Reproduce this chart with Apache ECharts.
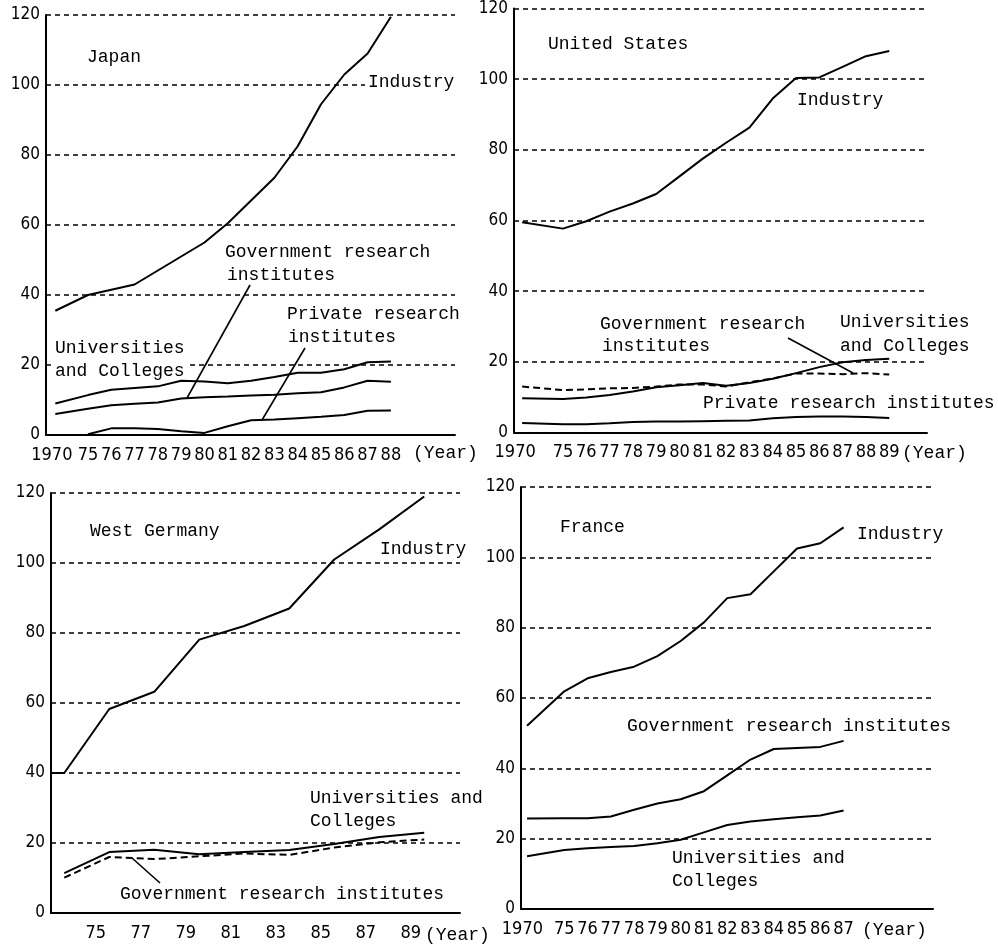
<!DOCTYPE html>
<html>
<head>
<meta charset="utf-8">
<script src="https://cdn.jsdelivr.net/npm/echarts@6/dist/echarts.min.js"></script>
<style>
html,body{margin:0;padding:0;background:#fff;}
#c{width:998px;height:951px;}
</style>
</head>
<body>
<div id="c"></div>
<script>
// ---------------- DATA ----------------
const yTicks = [0, 20, 40, 60, 80, 100, 120];

const jpYears = [1970, 1975, 1976, 1977, 1978, 1979, 1980, 1981, 1982, 1983, 1984, 1985, 1986, 1987, 1988];
const jpIndustry = [35.5, 40, 41.5, 43, 47, 51, 55, 60.5, 67, 73.5, 82.5, 94.5, 103, 109, 119.5];
const jpUniv     = [9, 11.4, 12.9, 13.4, 13.9, 15.5, 15.3, 14.8, 15.5, 16.6, 17.8, 17.8, 18.8, 20.8, 21];
const jpGov      = [6, 7.5, 8.5, 8.9, 9.3, 10.4, 10.8, 11, 11.3, 11.5, 11.9, 12.2, 13.6, 15.5, 15.2];
const jpPrivate  = [null, 0.2, 1.9, 1.9, 1.7, 1.1, 0.6, 2.5, 4.2, 4.4, 4.8, 5.2, 5.7, 6.9, 7];

const usYears = [1970, 1975, 1976, 1977, 1978, 1979, 1980, 1981, 1982, 1983, 1984, 1985, 1986, 1987, 1988, 1989];
const usIndustry = [59.5, 57.7, 59.8, 62.5, 64.8, 67.5, 72.5, 77.5, 82, 86.3, 94.5, 100.3, 100.5, 103.5, 106.5, 108];
const usUniv     = [9.7, 9.5, 9.9, 10.6, 11.6, 12.8, 13.4, 14, 13.2, 14, 15.2, 16.8, 18.5, 19.9, 20.5, 20.9];
const usGov      = [13, 12, 12.2, 12.5, 12.6, 13, 13.6, 13.6, 13, 14.2, 15.3, 16.7, 16.7, 16.5, 16.8, 16.4];
const usPrivate  = [2.7, 2.3, 2.3, 2.6, 3.0, 3.1, 3.1, 3.2, 3.3, 3.4, 4.0, 4.4, 4.5, 4.5, 4.4, 4.1];

const wgYears = [1972, 1973, 1975, 1977, 1979, 1981, 1983, 1985, 1987, 1989];
const wgIndustry = [40, 40, 58.3, 63.2, 78.1, 82, 87, 101, 109.6, 119];
const wgUniv     = [null, 11.4, 17.4, 18.1, 16.8, 17.4, 18, 19.7, 21.7, 22.9];
const wgGov      = [null, 10.1, 16, 15.4, 16.2, 17, 16.6, 18.7, 20.2, 21];
const wgLabelYears = [1975, 1977, 1979, 1981, 1983, 1985, 1987, 1989];

const frYears = [1970, 1975, 1976, 1977, 1978, 1979, 1980, 1981, 1982, 1983, 1984, 1985, 1986, 1987];
const frIndustry = [52.1, 61.9, 65.6, 67.4, 68.9, 71.9, 76.2, 81.5, 88.4, 89.5, 96, 102.5, 104, 108.5];
const frGov      = [25.7, 25.8, 25.8, 26.3, 28.2, 30, 31.2, 33.5, 38, 42.5, 45.5, 45.8, 46.1, 47.8];
const frUniv     = [15, 16.8, 17.3, 17.6, 17.9, 18.7, 19.7, 21.8, 23.9, 24.9, 25.5, 26.1, 26.6, 28];

// ---------------- LAYOUT ----------------
const panels = [
  {grid:{left:46, top:15, width:409, height:420}, xmin:73.2, xmax:90.75, p1970:73.6, l1970:73.45},
  {grid:{left:514, top:8.5, width:413, height:424}, xmin:72.9, xmax:90.62, p1970:73.25, l1970:72.95},
  {grid:{left:51, top:493, width:409, height:420}, xmin:72.41, xmax:90.59, p1970:73.0, l1970:null},
  {grid:{left:521, top:487, width:412, height:422}, xmin:73.14, xmax:90.84, p1970:73.4, l1970:73.2}
];

const annoFont = "18px 'Liberation Mono', 'DejaVu Sans Mono', monospace";
const annotations = [
  ['Japan', 87, 57], ['Industry', 368, 82],
  ['Government research', 225, 252], ['institutes', 227, 275],
  ['Universities', 55, 348], ['and Colleges', 55, 371],
  ['Private research', 287, 314], ['institutes', 288, 337],
  ['(Year)', 413, 453],
  ['United States', 548, 44], ['Industry', 797, 100],
  ['Government research', 600, 324], ['institutes', 602, 346],
  ['Universities', 840, 322], ['and Colleges', 840, 346],
  ['Private research institutes', 703, 403],
  ['(Year)', 902, 453],
  ['West Germany', 90, 531], ['Industry', 380, 549],
  ['Universities and', 310, 798], ['Colleges', 310, 821],
  ['Government research institutes', 120, 894],
  ['(Year)', 425, 935],
  ['France', 560, 527], ['Industry', 857, 534],
  ['Government research institutes', 627, 726],
  ['Universities and', 672, 858], ['Colleges', 672, 881],
  ['(Year)', 862, 930]
];
const leaders = [
  [250, 285, 187, 398],
  [305, 348, 262, 420],
  [788, 338, 853, 373],
  [160, 883, 132, 858]
];

// ---------------- BUILD ----------------
function xPos(yr, p1970) { return yr === 1970 ? p1970 : yr - 1900; }
function pts(years, vals, p1970) {
  const out = [];
  years.forEach((y, i) => { if (vals[i] != null) out.push([xPos(y, p1970), vals[i]]); });
  return out;
}
const black = '#000';
const tickFont = "'Liberation Sans Narrow', 'DejaVu Sans Condensed', sans-serif";
const wgLabelShift = 0.6;
const textPad = 3;

function labelValues(years, l1970) {
  return years.filter(y => y >= 1970).map(y => y === 1970 ? l1970 : y - 1900);
}
const xLabelVals = [
  labelValues(jpYears, panels[0].l1970),
  labelValues(usYears, panels[1].l1970),
  wgLabelYears.map(y => y - 1900 - wgLabelShift),
  labelValues(frYears, panels[3].l1970)
];

const grids = panels.map(p => Object.assign({containLabel:false}, p.grid));
const xAxes = panels.map((p, i) => ({
  type:'value', gridIndex:i, min:p.xmin, max:p.xmax,
  axisLine:{show:true, lineStyle:{color:black, width:2}},
  axisTick:{show:false}, splitLine:{show:false},
  axisLabel:{
    customValues: xLabelVals[i], margin: 11,
    color:black, fontSize:18, fontFamily:tickFont,
    formatter: v => {
      if (i === 2) return String(Math.round(v + wgLabelShift));
      return v < 74.5 ? '1970' : String(Math.round(v));
    }
  }
}));
const yAxes = panels.map((p, i) => ({
  type:'value', gridIndex:i, min:yTicks[0], max:yTicks[yTicks.length-1], interval:20,
  axisLine:{show:true, lineStyle:{color:black, width:2}},
  axisTick:{show:false},
  splitLine:{show:true, lineStyle:{color:black, width:1.6, type:[5,4]}},
  axisLabel:{color:black, fontSize:17, fontFamily:"'DejaVu Sans Condensed', 'DejaVu Sans', sans-serif", margin:6}
}));

function line(i, data, dashed) {
  return {
    type:'line', xAxisIndex:i, yAxisIndex:i, data:data, symbol:'none',
    clip:true, animation:false, z:5,
    lineStyle:{color:black, width:2, type: dashed ? [7,4] : 'solid'}
  };
}
const series = [
  line(0, pts(jpYears, jpIndustry, panels[0].p1970)),
  line(0, pts(jpYears, jpUniv, panels[0].p1970)),
  line(0, pts(jpYears, jpGov, panels[0].p1970)),
  line(0, pts(jpYears, jpPrivate, panels[0].p1970)),
  line(1, pts(usYears, usIndustry, panels[1].p1970)),
  line(1, pts(usYears, usUniv, panels[1].p1970)),
  line(1, pts(usYears, usGov, panels[1].p1970), true),
  line(1, pts(usYears, usPrivate, panels[1].p1970)),
  line(2, pts(wgYears, wgIndustry, panels[2].p1970)),
  line(2, pts(wgYears, wgUniv, panels[2].p1970)),
  line(2, pts(wgYears, wgGov, panels[2].p1970), true),
  line(3, pts(frYears, frIndustry, panels[3].p1970)),
  line(3, pts(frYears, frGov, panels[3].p1970)),
  line(3, pts(frYears, frUniv, panels[3].p1970))
];

const graphics = annotations.map(a => ({
  type:'text', silent:true, z:3,
  style:{text:a[0], x:a[1] - textPad, y:a[2], font:annoFont, fill:black, verticalAlign:'middle', align:'left',
         backgroundColor:'#fff', padding:[1,textPad,1,textPad]}
})).concat(leaders.map(l => ({
  type:'line', silent:true, z:6,
  shape:{x1:l[0], y1:l[1], x2:l[2], y2:l[3]},
  style:{stroke:black, lineWidth:1.6}
})));

const chart = echarts.init(document.getElementById('c'), null, {renderer:'canvas'});
chart.setOption({
  backgroundColor:'#fff',
  animation:false,
  grid:grids, xAxis:xAxes, yAxis:yAxes, series:series,
  graphic:graphics
});
</script>
</body>
</html>
